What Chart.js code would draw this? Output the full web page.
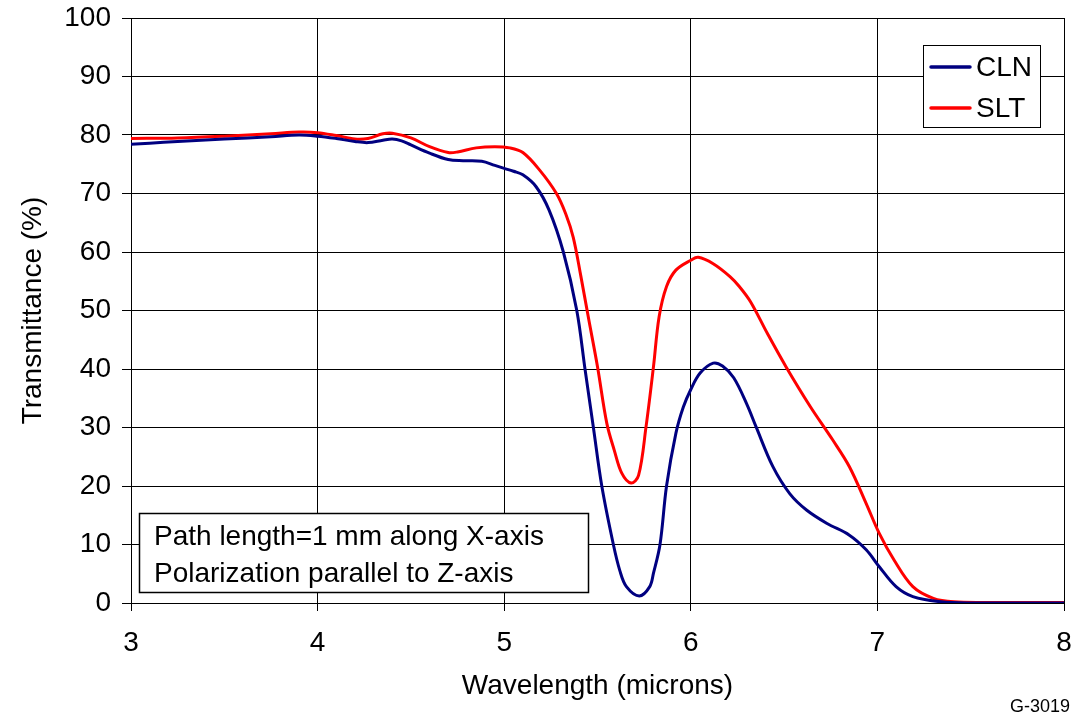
<!DOCTYPE html>
<html>
<head>
<meta charset="utf-8">
<script src="https://cdn.jsdelivr.net/npm/chart.js@4.4.1/dist/chart.umd.min.js"></script>
<style>
  html, body { margin: 0; padding: 0; background: #fff; }
  #wrap { position: relative; width: 1074px; height: 713px; }
  canvas { display: block; }
</style>
</head>
<body>
<div id="wrap"><canvas id="c" width="1074" height="713"></canvas></div>
<script>
// ---- data ----
const clnX = [3.00, 3.10, 3.25, 3.50, 3.75, 3.90, 4.00, 4.10, 4.20, 4.27, 4.35, 4.40, 4.45, 4.50, 4.60, 4.70, 4.78, 4.88, 4.95, 5.00, 5.05, 5.10, 5.17, 5.24, 5.317, 5.389, 5.433, 5.478, 5.523, 5.585, 5.62, 5.655, 5.724, 5.78, 5.80, 5.835, 5.87, 5.92, 5.96, 6.00, 6.05, 6.12, 6.17, 6.23, 6.30, 6.35, 6.44, 6.53, 6.62, 6.73, 6.85, 6.94, 7.01, 7.10, 7.19, 7.34, 7.50, 8.00];
const clnY = [78.4, 78.6, 78.9, 79.3, 79.7, 80.0, 79.8, 79.4, 78.9, 78.7, 79.1, 79.3, 79.0, 78.3, 76.9, 75.8, 75.6, 75.5, 74.8, 74.3, 73.8, 73.2, 71.2, 67.2, 60.0, 50.0, 40.0, 30.0, 20.0, 10.0, 5.5, 2.8, 1.2, 2.8, 5.1, 10.0, 20.0, 29.0, 33.5, 36.5, 39.3, 41.0, 40.5, 38.5, 34.0, 30.1, 23.3, 18.7, 15.9, 13.6, 11.6, 9.1, 6.2, 2.8, 1.1, 0.2, 0.0, 0.0];

const sltX = [3.00, 3.25, 3.50, 3.75, 3.90, 4.00, 4.10, 4.20, 4.27, 4.35, 4.40, 4.50, 4.60, 4.70, 4.75, 4.85, 4.95, 5.03, 5.10, 5.19, 5.28, 5.33, 5.37, 5.41, 5.45, 5.50, 5.55, 5.59, 5.63, 5.68, 5.72, 5.76, 5.80, 5.83, 5.87, 5.92, 6.00, 6.04, 6.12, 6.21, 6.26, 6.32, 6.41, 6.51, 6.64, 6.76, 6.85, 6.94, 7.01, 7.09, 7.19, 7.30, 7.41, 7.60, 8.00];
const sltY = [79.4, 79.5, 79.8, 80.2, 80.5, 80.4, 79.9, 79.3, 79.4, 80.2, 80.3, 79.5, 78.0, 77.0, 77.1, 77.8, 78.0, 77.8, 77.0, 74.0, 70.0, 66.5, 62.5, 56.0, 49.0, 40.4, 30.7, 26.1, 22.2, 20.5, 21.8, 30.1, 40.4, 48.9, 54.1, 56.9, 58.6, 59.1, 58.0, 55.8, 54.1, 51.5, 46.1, 40.4, 33.6, 27.9, 23.3, 17.0, 11.9, 7.3, 2.8, 0.8, 0.2, 0.1, 0.1];

const seriesNames = ["CLN", "SLT"];
const seriesColors = ["#000080", "#ff0000"];
const xTicks = [3, 4, 5, 6, 7, 8];
const yTicks = [0, 10, 20, 30, 40, 50, 60, 70, 80, 90, 100];
const xTitle = "Wavelength (microns)";
const yTitle = "Transmittance (%)";
const noteLines = ["Path length=1 mm along X-axis", "Polarization parallel to Z-axis"];
const figId = "G-3019";

const FONT = "'Liberation Sans', Arial, Helvetica, sans-serif";

function pts(xs, ys) { return xs.map((x, i) => ({ x: x, y: ys[i] })); }

const overlay = {
  id: 'overlay',
  afterDraw(chart) {
    const ctx = chart.ctx;
    const a = chart.chartArea;
    ctx.save();
    // legend box
    const lx = a.right - 141, ly = a.top + 27, lw = 117, lh = 82;
    ctx.fillStyle = '#fff';
    ctx.fillRect(lx, ly, lw, lh);
    ctx.strokeStyle = '#000';
    ctx.lineWidth = 1;
    ctx.strokeRect(lx + 0.5, ly + 0.5, lw, lh);
    ctx.font = '28px ' + FONT;
    ctx.textBaseline = 'middle';
    ctx.textAlign = 'left';
    const rows = [ly + 22, ly + 63];
    seriesNames.forEach((n, i) => {
      ctx.strokeStyle = seriesColors[i];
      ctx.lineWidth = 3.5;
      ctx.lineCap = 'round';
      ctx.beginPath();
      ctx.moveTo(lx + 8, rows[i]);
      ctx.lineTo(lx + 47, rows[i]);
      ctx.stroke();
      ctx.fillStyle = '#000';
      ctx.fillText(n, lx + 53, rows[i] + 1);
    });
    // note box
    const nx = a.left + 8, ny = a.bottom - 90, nw = 449, nh = 79;
    ctx.fillStyle = '#fff';
    ctx.fillRect(nx, ny, nw, nh);
    ctx.strokeStyle = '#000';
    ctx.lineWidth = 1.5;
    ctx.strokeRect(nx + 0.5, ny + 0.5, nw, nh);
    ctx.fillStyle = '#000';
    ctx.textBaseline = 'alphabetic';
    ctx.font = '28px ' + FONT;
    ctx.fillText(noteLines[0], nx + 15, ny + 32);
    ctx.fillText(noteLines[1], nx + 15, ny + 69);
    // figure id
    ctx.font = '18px ' + FONT;
    ctx.textAlign = 'right';
    ctx.fillText(figId, chart.width - 4, chart.height - 1);
    ctx.restore();
  }
};

new Chart(document.getElementById('c'), {
  type: 'line',
  data: {
    datasets: [
      { label: seriesNames[0], data: pts(clnX, clnY), borderColor: seriesColors[0], borderWidth: 3, pointRadius: 0, tension: 0.35, fill: false },
      { label: seriesNames[1], data: pts(sltX, sltY), borderColor: seriesColors[1], borderWidth: 3, pointRadius: 0, tension: 0.35, fill: false }
    ]
  },
  options: {
    responsive: false,
    animation: false,
    events: [],
    layout: { padding: { top: 18, right: 10, left: 0, bottom: 0 } },
    plugins: { legend: { display: false }, tooltip: { enabled: false } },
    scales: {
      x: {
        type: 'linear', min: 3, max: 8,
        afterBuildTicks(s) { s.ticks = xTicks.map(v => ({ value: v })); },
        afterFit(s) { s.height = 110; s.paddingLeft = 0; s.paddingRight = 0; },
        grid: { color: '#000', lineWidth: 1, tickLength: 8, tickColor: '#000' },
        border: { color: '#000', width: 1 },
        ticks: { color: '#000', font: { family: FONT, size: 28 }, padding: 15, maxRotation: 0 },
        title: { display: true, text: xTitle, color: '#000', font: { family: FONT, size: 28 }, padding: { top: 0, bottom: 10 } }
      },
      y: {
        type: 'linear', min: 0, max: 100,
        afterBuildTicks(s) { s.ticks = yTicks.map(v => ({ value: v })); },
        afterFit(s) { s.width = 131; s.paddingTop = 0; s.paddingBottom = 0; },
        grid: { color: '#000', lineWidth: 1, tickLength: 9, tickColor: '#000' },
        border: { color: '#000', width: 1 },
        ticks: { color: '#000', font: { family: FONT, size: 28 }, padding: 11 },
        title: { display: true, text: yTitle, color: '#000', font: { family: FONT, size: 28 }, padding: { top: 16, bottom: 0 } }
      }
    }
  },
  plugins: [overlay]
});
</script>
</body>
</html>
